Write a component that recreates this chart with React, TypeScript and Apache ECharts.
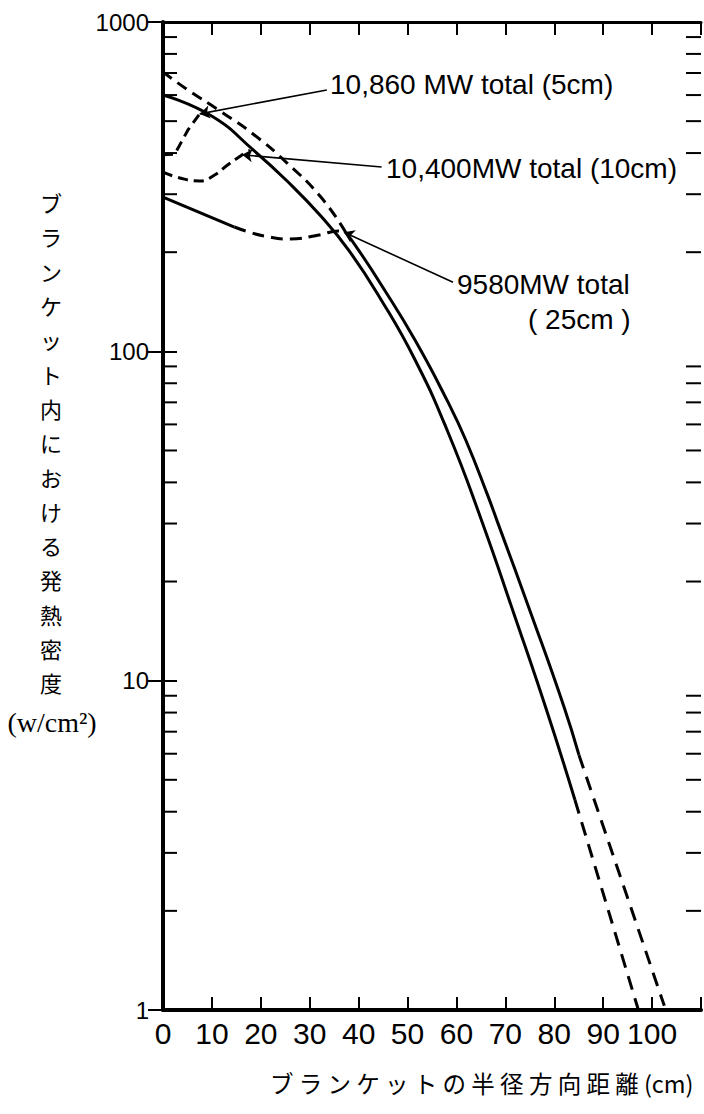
import React, { useEffect, useRef } from "react";
import * as echarts from "echarts";

// ---- data ----
const xTicks = [0, 10, 20, 30, 40, 50, 60, 70, 80, 90, 100];
const yMinorTicks = [2, 3, 4, 5, 6, 7, 8, 9, 20, 30, 40, 50, 60, 70, 80, 90, 200, 300, 400, 500, 600, 700, 800, 900];

// inner (left) main curve: solid part and dashed tail
const innerX = [0, 9.95, 18.67, 25.37, 32.27, 37.95, 44.65, 51.55, 58.25, 64.95, 71.85, 78.55, 84.23];
const innerY = [600, 518, 406, 329, 257.5, 203, 143, 94.1, 56.9, 31.2, 15.8, 8.03, 4.34];
const innerTailX = [84.23, 97.2];
const innerTailY = [4.34, 1];

// outer (right) main curve: dashed head, solid middle, dashed tail
const outerHeadX = [0, 5.07, 11.97, 18.67, 25.37, 32.27, 37.35];
const outerHeadY = [705, 622, 533, 454, 373, 294, 230];
const outerSolidX = [37.35, 39.98, 44.65, 51.55, 58.25, 61.9, 66.37, 68.4, 75.1, 82.0, 85.04];
const outerSolidY = [230, 203, 159, 108, 70.2, 53.8, 36.6, 30.3, 16.2, 8.32, 5.95];
const outerTailX = [85.04, 102.5];
const outerTailY = [5.95, 1.03];

// 10,860 MW (5 cm)
const fiveX = [0, 2.4, 5.1, 7.5];
const fiveY = [395, 397, 470, 526];
// 10,400 MW (10 cm)
const tenX = [0, 3.45, 7.5, 10.55, 13.2, 16.2, 17.8];
const tenY = [350, 336, 329, 343, 368, 395, 408];
// 9580 MW (25 cm)
const tfSolidX = [0, 14.6];
const tfSolidY = [294, 238.5];
const tfDashX = [14.6, 17.66, 20.7, 25.8, 31.9, 35.9, 37.35];
const tfDashY = [238.5, 230, 224, 219.3, 225.6, 232, 230];

// leader lines: [from text, to curve]
const leaderFromX = [33.5, 44.7, 59.3];
const leaderFromY = [622, 363, 162];
const leaderToX = [7.5, 16.2, 37.0];
const leaderToY = [526, 395, 230];

const labels5 = "10,860 MW total (5cm)";
const labels10 = "10,400MW total (10cm)";
const labels25a = "9580MW total";
const labels25b = "( 25cm )";
const yTitle = "ブランケット内における発熱密度";
const yUnit = "(w/cm²)";
const xTitle = "ブ ラ ン ケ ッ ト の 半 径 方 向 距 離 (cm)";

const zip = (xs: number[], ys: number[]) => xs.map((x, i) => [x, ys[i]]);

const BLACK = "#000";
const LATIN = "'Liberation Sans', Arial, sans-serif";
const CJK = "'Noto Sans CJK JP', 'Noto Sans CJK SC', sans-serif";

function lineSeries(data: number[][], dashed: boolean, dash: number[] = [11, 7], smooth: number = 0.5) {
  return {
    type: "line",
    data,
    smooth,
    showSymbol: false,
    symbol: "none",
    silent: true,
    clip: false,
    lineStyle: { color: BLACK, width: 3, type: dashed ? dash : "solid", cap: "butt", join: "round" },
  };
}

export default function App() {
  const ref = useRef<HTMLDivElement>(null);
  useEffect(() => {
    if (!ref.current) return;
    const chart = echarts.init(ref.current, null, { renderer: "svg" });
    const option: any = {
      animation: false,
      backgroundColor: "#fff",
      grid: { left: 163, right: -1, top: 22, bottom: 104, containLabel: false },
      xAxis: [
        {
          type: "value",
          position: "bottom",
          min: 0,
          max: 110,
          interval: 10,
          axisLine: { show: true, lineStyle: { color: BLACK, width: 4 } },
          axisTick: { show: true, inside: true, length: 13, lineStyle: { color: BLACK, width: 2 } },
          axisLabel: {
            show: true,
            color: BLACK,
            fontSize: 30,
            fontFamily: LATIN,
            margin: 8,
            formatter: (v: number) => (xTicks.indexOf(v) >= 0 ? String(v) : ""),
          },
          splitLine: { show: false },
        },
        {
          type: "value",
          position: "top",
          min: 0,
          max: 110,
          interval: 10,
          axisLine: { show: true, lineStyle: { color: BLACK, width: 3 } },
          axisTick: { show: true, inside: true, length: 13, lineStyle: { color: BLACK, width: 2 } },
          axisLabel: { show: false },
          splitLine: { show: false },
        },
      ],
      yAxis: [
        {
          type: "log",
          logBase: 10,
          position: "left",
          min: 1,
          max: 1000,
          axisLine: { show: true, lineStyle: { color: BLACK, width: 4 } },
          axisTick: { show: true, inside: true, length: 14, lineStyle: { color: BLACK, width: 2 } },
          axisLabel: {
            show: true,
            color: BLACK,
            fontSize: 24,
            fontFamily: LATIN,
            margin: 14,
            formatter: (v: number) => String(Math.round(v)),
          },
          splitLine: { show: false },
          minorTick: { show: false },
        },
        {
          type: "log",
          logBase: 10,
          position: "right",
          min: 1,
          max: 1000,
          axisLine: { show: false },
          axisTick: { show: true, inside: true, length: 15, lineStyle: { color: BLACK, width: 2 } },
          axisLabel: { show: false },
          splitLine: { show: false },
        },
      ],
      series: [
        {
          type: "custom",
          silent: true,
          clip: false,
          xAxisIndex: 0,
          yAxisIndex: 0,
          data: yMinorTicks.map((v) => [0, v]),
          encode: { x: 0, y: 1 },
          renderItem: (params: any, api: any) => {
            const cs = params.coordSys;
            const p = api.coord([0, api.value(1)]);
            const st = { stroke: BLACK, lineWidth: 2 };
            return {
              type: "group",
              children: [
                { type: "line", shape: { x1: cs.x, y1: p[1], x2: cs.x + 14, y2: p[1] }, style: st },
                { type: "line", shape: { x1: cs.x + cs.width - 15, y1: p[1], x2: cs.x + cs.width, y2: p[1] }, style: st },
              ],
            };
          },
        },
        lineSeries(zip(innerX, innerY), false),
        lineSeries(zip(innerTailX, innerTailY), true, [14, 9], 0),
        lineSeries(zip(outerHeadX, outerHeadY), true, [11, 7]),
        lineSeries(zip(outerSolidX, outerSolidY), false),
        lineSeries(zip(outerTailX, outerTailY), true, [14, 9], 0),
        lineSeries(zip(fiveX, fiveY), true, [10, 6], 0),
        lineSeries(zip(tenX, tenY), true, [10, 6]),
        lineSeries(zip(tfSolidX, tfSolidY), false, [11, 7], 0),
        lineSeries(zip(tfDashX, tfDashY), true, [12, 7]),
        {
          type: "lines",
          coordinateSystem: "cartesian2d",
          silent: true,
          symbol: ["none", "arrow"],
          symbolSize: 10,
          lineStyle: { color: BLACK, width: 1.6, opacity: 1, curveness: 0 },
          data: leaderFromX.map((x, i) => ({
            coords: [
              [x, leaderFromY[i]],
              [leaderToX[i], leaderToY[i]],
            ],
          })),
        },
      ],
      graphic: [
        { type: "text", x: 330, y: 84, style: { text: labels5, fontSize: 28, fontFamily: LATIN, fill: BLACK, textAlign: "left", textVerticalAlign: "middle", align: "left", verticalAlign: "middle" } },
        { type: "text", x: 386, y: 168, style: { text: labels10, fontSize: 28, fontFamily: LATIN, fill: BLACK, textAlign: "left", textVerticalAlign: "middle", align: "left", verticalAlign: "middle" } },
        { type: "text", x: 457, y: 284, style: { text: labels25a, fontSize: 28, fontFamily: LATIN, fill: BLACK, textAlign: "left", textVerticalAlign: "middle", align: "left", verticalAlign: "middle" } },
        { type: "text", x: 528, y: 319, style: { text: labels25b, fontSize: 28, fontFamily: LATIN, fill: BLACK, textAlign: "left", textVerticalAlign: "middle", align: "left", verticalAlign: "middle" } },
        {
          type: "text",
          x: 51,
          y: 185,
          style: {
            text: yTitle.split("").join("\n"),
            fontSize: 22,
            lineHeight: 34.3,
            fontFamily: CJK,
            fill: BLACK,
            textAlign: "center",
            textVerticalAlign: "top",
            align: "center",
            verticalAlign: "top",
          },
        },
        { type: "text", x: 52, y: 722, style: { text: yUnit, fontSize: 28, fontFamily: "'Liberation Serif', 'DejaVu Serif', serif", fill: BLACK, textAlign: "center", textVerticalAlign: "middle", align: "center", verticalAlign: "middle" } },
        { type: "text", x: 270, y: 1083, style: { text: xTitle, fontSize: 23.5, fontFamily: CJK, fill: BLACK, textAlign: "left", textVerticalAlign: "middle", align: "left", verticalAlign: "middle" } },
      ],
    };
    chart.setOption(option);
    return () => chart.dispose();
  }, []);
  return <div ref={ref} style={{ position: "absolute", left: 0, top: 0, width: 704, height: 1114 }} />;
}
